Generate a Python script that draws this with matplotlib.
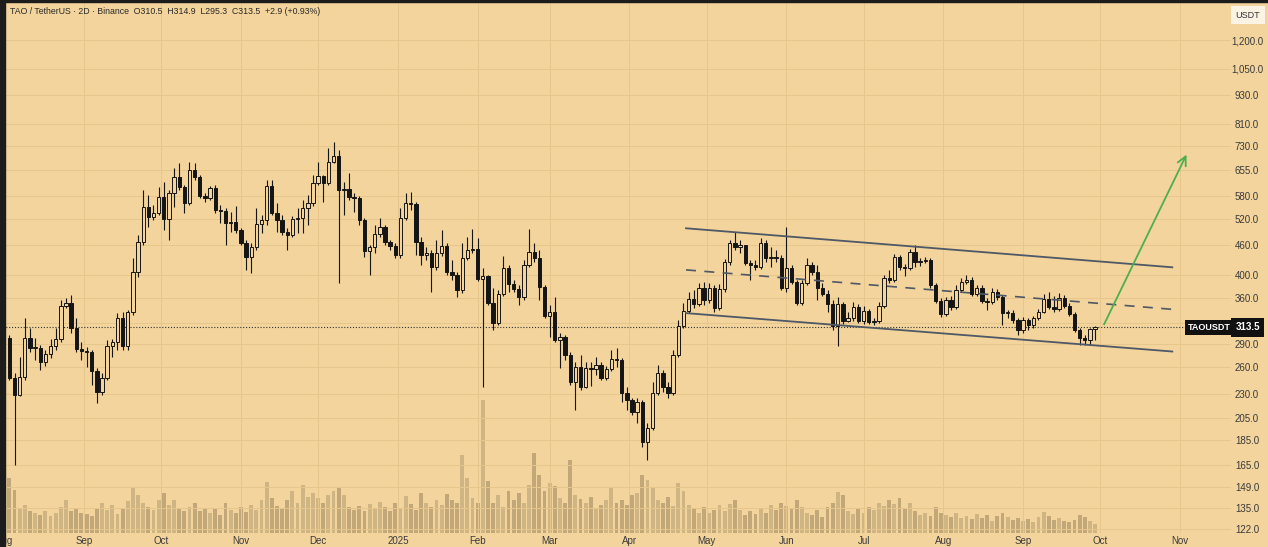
import numpy as np
import pandas as pd
import matplotlib
matplotlib.use('Agg')
import matplotlib.pyplot as plt
import matplotlib.dates as mdates
from matplotlib.patches import Rectangle
from matplotlib.ticker import FuncFormatter, NullLocator

plt.rcParams['font.family'] = ['Liberation Sans', 'DejaVu Sans']

# ---- data (2D candles, TAO/USDT) ----
start_date = '2024-08-03'
first_open = 298.1

closes = [247.3, 228.4, 248.4, 298.1, 284.6, 285.0, 266.5, 276.7, 287.2, 296.7,
          346.2, 351.1, 312.4, 283.2, 280.6, 280.0, 255.5, 231.6, 247.3, 287.2,
          292.7, 327.3, 287.2, 336.6, 405.9, 466.9, 549.8, 524.7, 534.7, 576.1,
          519.9, 587.0, 632.6, 603.6, 560.2, 653.6, 632.6, 578.9, 573.5, 600.8,
          542.2, 541.0, 510.2, 512.6, 493.8, 464.7, 435.3, 456.1, 507.8, 517.4,
          606.5, 534.7, 517.4, 489.2, 482.4, 519.9, 522.3, 547.2, 560.2, 615.0,
          635.6, 615.0, 678.5, 697.9, 595.3, 598.0, 576.1, 573.5, 517.4, 447.7,
          456.1, 484.7, 500.7, 466.9, 458.3, 439.5, 522.3, 560.2, 557.6, 466.9,
          439.5, 443.5, 415.5, 443.5, 458.3, 405.9, 400.3, 373.1, 433.3, 449.8,
          451.9, 392.8, 398.4, 351.1, 319.8, 366.2, 413.5, 383.7, 374.8, 361.1,
          419.4, 445.6, 433.3, 378.3, 330.4, 336.6, 295.4, 299.5, 275.4, 242.7,
          260.3, 237.1, 259.1, 257.9, 262.8, 247.3, 257.9, 270.3, 269.0, 230.5,
          223.2, 211.0, 221.1, 183.4, 195.7, 230.5, 253.1, 237.1, 230.5, 275.4,
          315.4, 338.2, 357.7, 349.4, 376.6, 356.0, 376.6, 342.9, 374.8, 425.3,
          464.7, 456.1, 460.5, 423.3, 419.4, 415.5, 464.7, 433.3, 434.5, 433.3,
          376.6, 413.5, 387.3, 351.1, 385.5, 419.4, 405.9, 376.6, 366.2, 349.4,
          315.4, 349.4, 322.8, 327.3, 344.5, 322.8, 338.2, 321.3, 322.8, 346.2,
          394.7, 390.9, 435.3, 415.5, 413.5, 445.6, 425.3, 427.3, 429.3, 381.9,
          354.3, 333.5, 356.0, 344.5, 373.1, 387.3, 390.9, 366.2, 376.6, 354.3,
          352.7, 369.6, 361.1, 335.1, 335.6, 324.3, 309.5, 324.3, 316.8, 327.3,
          336.6, 357.7, 344.5, 341.4, 359.4, 346.2, 333.5, 309.5, 298.1, 295.4,
          310.5, 313.5]

highs = [302.4, 253.1, 272.8, 327.3, 312.4, 298.1, 288.6, 281.9, 296.7, 312.4,
         356.0, 359.4, 364.5, 327.3, 292.7, 285.9, 281.9, 259.1, 253.1, 295.4,
         296.7, 335.1, 336.6, 339.8, 433.3, 482.4, 595.3, 581.6, 555.0, 603.6,
         617.9, 595.3, 659.8, 675.4, 609.4, 678.5, 675.4, 638.6, 587.0, 606.5,
         609.4, 555.0, 547.2, 537.2, 552.4, 498.4, 471.3, 464.7, 547.2, 529.7,
         623.7, 623.7, 560.2, 529.7, 498.4, 527.2, 547.2, 568.1, 581.6, 638.6,
         678.5, 638.6, 724.4, 745.0, 717.7, 617.9, 644.5, 587.0, 578.9, 522.3,
         460.5, 505.5, 522.3, 505.5, 471.3, 464.7, 547.2, 587.0, 589.8, 562.8,
         477.9, 456.1, 449.8, 471.3, 493.8, 464.7, 429.3, 405.9, 464.7, 477.9,
         496.1, 475.7, 413.5, 400.3, 376.6, 373.1, 437.4, 419.4, 390.9, 381.9,
         429.3, 496.1, 464.7, 449.8, 381.9, 347.8, 361.1, 305.2, 302.4, 279.3,
         266.5, 275.4, 266.5, 266.5, 272.8, 266.5, 261.6, 281.9, 284.6, 271.6,
         237.1, 225.2, 225.2, 223.2, 200.4, 242.7, 262.8, 256.7, 242.7, 281.9,
         324.3, 351.1, 369.6, 373.1, 385.5, 387.3, 385.5, 381.9, 383.7, 431.3,
         471.3, 489.2, 471.3, 460.5, 429.3, 429.3, 475.7, 471.3, 456.1, 449.8,
         439.5, 500.7, 419.4, 390.9, 390.9, 433.3, 425.3, 419.4, 385.5, 373.1,
         356.0, 361.1, 352.7, 336.6, 352.7, 349.4, 346.2, 341.4, 327.3, 352.7,
         400.3, 409.7, 441.5, 439.5, 421.4, 451.9, 460.5, 433.3, 435.3, 433.3,
         385.5, 359.4, 361.1, 362.8, 381.9, 394.7, 400.3, 396.5, 381.9, 381.9,
         359.4, 376.6, 374.8, 364.5, 339.8, 339.8, 327.3, 329.0, 327.3, 330.4,
         341.4, 366.2, 369.6, 362.8, 367.9, 364.5, 351.1, 336.6, 312.4, 302.4,
         312.4, 314.9]

lows = [245.0, 164.7, 227.3, 245.0, 279.3, 269.0, 256.7, 261.6, 271.6, 281.9,
        292.7, 342.9, 305.2, 279.3, 269.0, 260.3, 239.4, 220.1, 228.4, 245.0,
        272.8, 281.9, 281.9, 281.9, 332.0, 396.5, 460.5, 500.7, 517.4, 529.7,
        493.8, 471.3, 549.8, 595.3, 534.7, 555.0, 623.7, 573.5, 562.8, 568.1,
        534.7, 510.2, 460.5, 489.2, 486.9, 460.5, 409.7, 404.0, 449.8, 486.9,
        505.5, 529.7, 489.2, 482.4, 449.8, 477.9, 486.9, 486.9, 505.5, 552.4,
        609.4, 562.8, 609.4, 675.4, 385.5, 529.7, 568.1, 537.2, 505.5, 435.3,
        400.3, 443.5, 477.9, 460.5, 449.8, 433.3, 433.3, 517.4, 542.2, 439.5,
        419.4, 429.3, 369.6, 409.7, 437.4, 400.3, 390.9, 361.1, 367.9, 429.3,
        443.5, 389.1, 237.1, 347.8, 309.5, 316.8, 362.8, 369.6, 369.6, 347.8,
        356.0, 415.5, 425.3, 356.0, 327.3, 299.5, 292.7, 259.1, 269.0, 239.4,
        213.0, 233.8, 236.0, 238.2, 250.8, 245.0, 245.0, 255.5, 260.3, 221.1,
        213.0, 208.1, 200.4, 179.1, 168.6, 194.0, 228.4, 231.6, 225.2, 228.4,
        272.8, 312.4, 335.1, 342.9, 346.2, 347.8, 351.1, 336.6, 339.8, 369.6,
        419.4, 449.8, 443.5, 419.4, 390.9, 409.7, 411.6, 425.3, 415.5, 425.3,
        373.1, 369.6, 383.7, 347.8, 347.8, 381.9, 400.3, 356.0, 362.8, 336.6,
        309.5, 287.2, 318.3, 321.3, 322.8, 319.8, 318.3, 318.3, 316.8, 319.8,
        342.9, 385.5, 387.3, 409.7, 398.4, 409.7, 415.5, 417.5, 423.3, 376.6,
        351.1, 329.0, 330.4, 339.8, 341.4, 369.6, 383.7, 362.8, 362.8, 351.1,
        339.8, 349.4, 356.0, 316.8, 327.3, 319.8, 302.4, 305.2, 309.5, 312.4,
        324.3, 335.1, 341.4, 336.6, 338.2, 342.9, 330.4, 306.6, 288.6, 288.6,
        288.6, 295.3]

volumes = [550, 430, 250, 280, 220, 200, 180, 220, 170, 200,
           260, 330, 220, 240, 200, 190, 170, 250, 300, 230,
           280, 190, 240, 320, 450, 380, 300, 260, 230, 330,
           400, 280, 330, 250, 220, 260, 300, 220, 250, 200,
           240, 180, 300, 230, 200, 260, 210, 280, 230, 330,
           510, 350, 270, 240, 330, 420, 300, 480, 360, 400,
           350, 300, 380, 420, 450, 380, 260, 230, 270, 220,
           290, 240, 310, 260, 220, 300, 250, 370, 290, 230,
           400, 300, 260, 330, 280, 390, 330, 300, 780, 550,
           350, 300, 1330, 520, 300, 380, 260, 420, 330, 400,
           300, 480, 800, 580, 420, 500, 470, 350, 300, 730,
           380, 340, 300, 360, 250, 280, 330, 460, 300, 330,
           280, 380, 400, 580, 530, 450, 330, 300, 360, 270,
           500, 420, 280, 240, 200, 260, 200, 230, 280, 220,
           290, 330, 230, 180, 220, 190, 250, 200, 280, 230,
           300, 270, 240, 330, 260, 200, 180, 230, 160, 260,
           300, 410, 380, 220, 190, 240, 200, 260, 230, 300,
           270, 330, 290, 350, 250, 300, 220, 180, 200, 170,
           260, 200, 180, 160, 200, 150, 170, 140, 190, 150,
           180, 120, 170, 200, 160, 130, 150, 120, 140, 110,
           160, 210, 170, 130, 150, 120, 110, 130, 180, 160,
           120, 90]

price_ticks = [122, 135, 149, 165, 185, 205, 230, 260, 290, 320, 360, 400,
               460, 520, 580, 655, 730, 810, 930, 1050, 1200]
last_price = 313.5

# drawing-tool lines (channel + projection arrow)
channel_dates = ['2025-04-23', '2025-10-29']
channel_upper = [498, 415]
channel_mid = [410, 341]
channel_lower = [335, 280]
arrow_from = ('2025-10-02', 314)
arrow_to = ('2025-11-04', 711)

header = 'TAO / TetherUS \u00b7 2D \u00b7 Binance  O310.5  H314.9  L295.3  C313.5  +2.9 (+0.93%)'

BG = '#F2D49C'
GRID = '#E7C68C'
INK = '#151515'
LINE = '#4F5866'
GREEN = '#4CAF50'

dates = pd.date_range(start_date, periods=len(closes), freq='2D')
x = mdates.date2num(dates)
c = np.array(closes)
o = np.concatenate([[first_open], c[:-1]])
hi = np.maximum(np.array(highs), np.maximum(o, c))
lo = np.minimum(np.array(lows), np.minimum(o, c))
up = c >= o

fig = plt.figure(figsize=(12.68, 5.47), dpi=100, facecolor=BG)
pos = [0, 14 / 547, 1231 / 1268, 530 / 547]
vax = fig.add_axes(pos, zorder=0)
ax = fig.add_axes(pos, zorder=1)
vax.set_facecolor(BG)
ax.patch.set_alpha(0)

# x scale: Sep 1 2024 sits at px 84, ~2.573 px per day
d0 = mdates.date2num(pd.Timestamp('2024-09-01'))
ppd = (1180 - 84) / 426
xlim = (d0 - 84 / ppd, d0 + (1231 - 84) / ppd)

# volume
vcol = np.where(up, '#CDB383', '#C0A676')
vax.bar(x, volumes, width=1.5, color=vcol, alpha=0.95, zorder=1)
vax.set_ylim(0, 5300)
vax.set_xlim(*xlim)
vax.axis('off')

# candles
ax.set_yscale('log')
ax.set_ylim(119.9, 1427)
ax.set_xlim(*xlim)
ax.vlines(x, lo, hi, color=INK, lw=0.8, zorder=2)
body_h = np.maximum(np.abs(c - o), c * 0.004)
body_b = np.minimum(o, c)
ax.bar(x[up], body_h[up], bottom=body_b[up], width=1.3, facecolor=BG,
       edgecolor=INK, lw=0.7, zorder=3)
ax.bar(x[~up], body_h[~up], bottom=body_b[~up], width=1.3, facecolor=INK,
       edgecolor=INK, lw=0.7, zorder=3)

# channel drawings
cd = mdates.date2num(pd.to_datetime(channel_dates))
ax.plot(cd, channel_upper, color=LINE, lw=1.3, zorder=4)
ax.plot(cd, channel_lower, color=LINE, lw=1.3, zorder=4)
ax.plot(cd, channel_mid, color=LINE, lw=1.2, ls=(0, (6, 5)), zorder=4)
ax.annotate('', xy=(mdates.date2num(pd.Timestamp(arrow_to[0])), arrow_to[1]),
            xytext=(mdates.date2num(pd.Timestamp(arrow_from[0])), arrow_from[1]),
            arrowprops=dict(arrowstyle='->', color=GREEN, lw=1.3, mutation_scale=16),
            zorder=5)

# last price line
ax.axhline(last_price, color='#333333', lw=0.8, ls=(0, (1, 1.6)), zorder=1)

# axes styling
for s in ax.spines.values():
    s.set_visible(False)
ax.yaxis.tick_right()
ax.set_yticks(price_ticks)
ax.yaxis.set_minor_locator(NullLocator())
ax.yaxis.set_major_formatter(FuncFormatter(lambda v, _: f'{v:,.1f}'))
ax.tick_params(axis='y', length=0, pad=11.5, labelsize=7, labelcolor='#3a3a3a')
for lab in ax.get_yticklabels():
    lab.set_horizontalalignment('center')

months = pd.date_range('2024-08-01', '2025-11-01', freq='MS')
ax.set_xticks(mdates.date2num(months))
ax.set_xticklabels(['2025' if m.month == 1 else m.strftime('%b') for m in months])
ax.tick_params(axis='x', length=0, pad=2.5, labelsize=7, labelcolor='#3a3a3a')
ax.set_axisbelow(True)
ax.grid(True, color=GRID, lw=0.7)

# price labels on the scale
ax.text(0.9995, last_price, 'TAOUSDT', transform=ax.get_yaxis_transform(),
        ha='right', va='center', fontsize=6.5, color='white', fontweight='bold',
        bbox=dict(boxstyle='square,pad=0.3', fc='#111111', ec='none'), zorder=10)
ax.text(1.0135, last_price, f'{last_price:.1f}', transform=ax.get_yaxis_transform(),
        ha='center', va='center', fontsize=7, color='white', fontweight='bold',
        bbox=dict(boxstyle='square,pad=0.45', fc='#111111', ec='none'),
        clip_on=False, zorder=10)

fig.text(10 / 1268, 1 - 12 / 547, header, fontsize=6.3, color='#2a2a2a', va='center')
fig.text(1248 / 1268, 1 - 15 / 547, 'USDT', fontsize=6.5, color='#333333',
         ha='center', va='center',
         bbox=dict(boxstyle='square,pad=0.5', fc='#FBF3E4', ec='none'))

# screenshot borders
fig.add_artist(Rectangle((0, 0), 5 / 1268, 1, transform=fig.transFigure,
                         color='#1c1c1c', zorder=20))
fig.add_artist(Rectangle((0, 1 - 2 / 547), 1, 2 / 547, transform=fig.transFigure,
                         color='#1c1c1c', zorder=20))

fig.savefig('out.png', dpi=100, facecolor=BG)
